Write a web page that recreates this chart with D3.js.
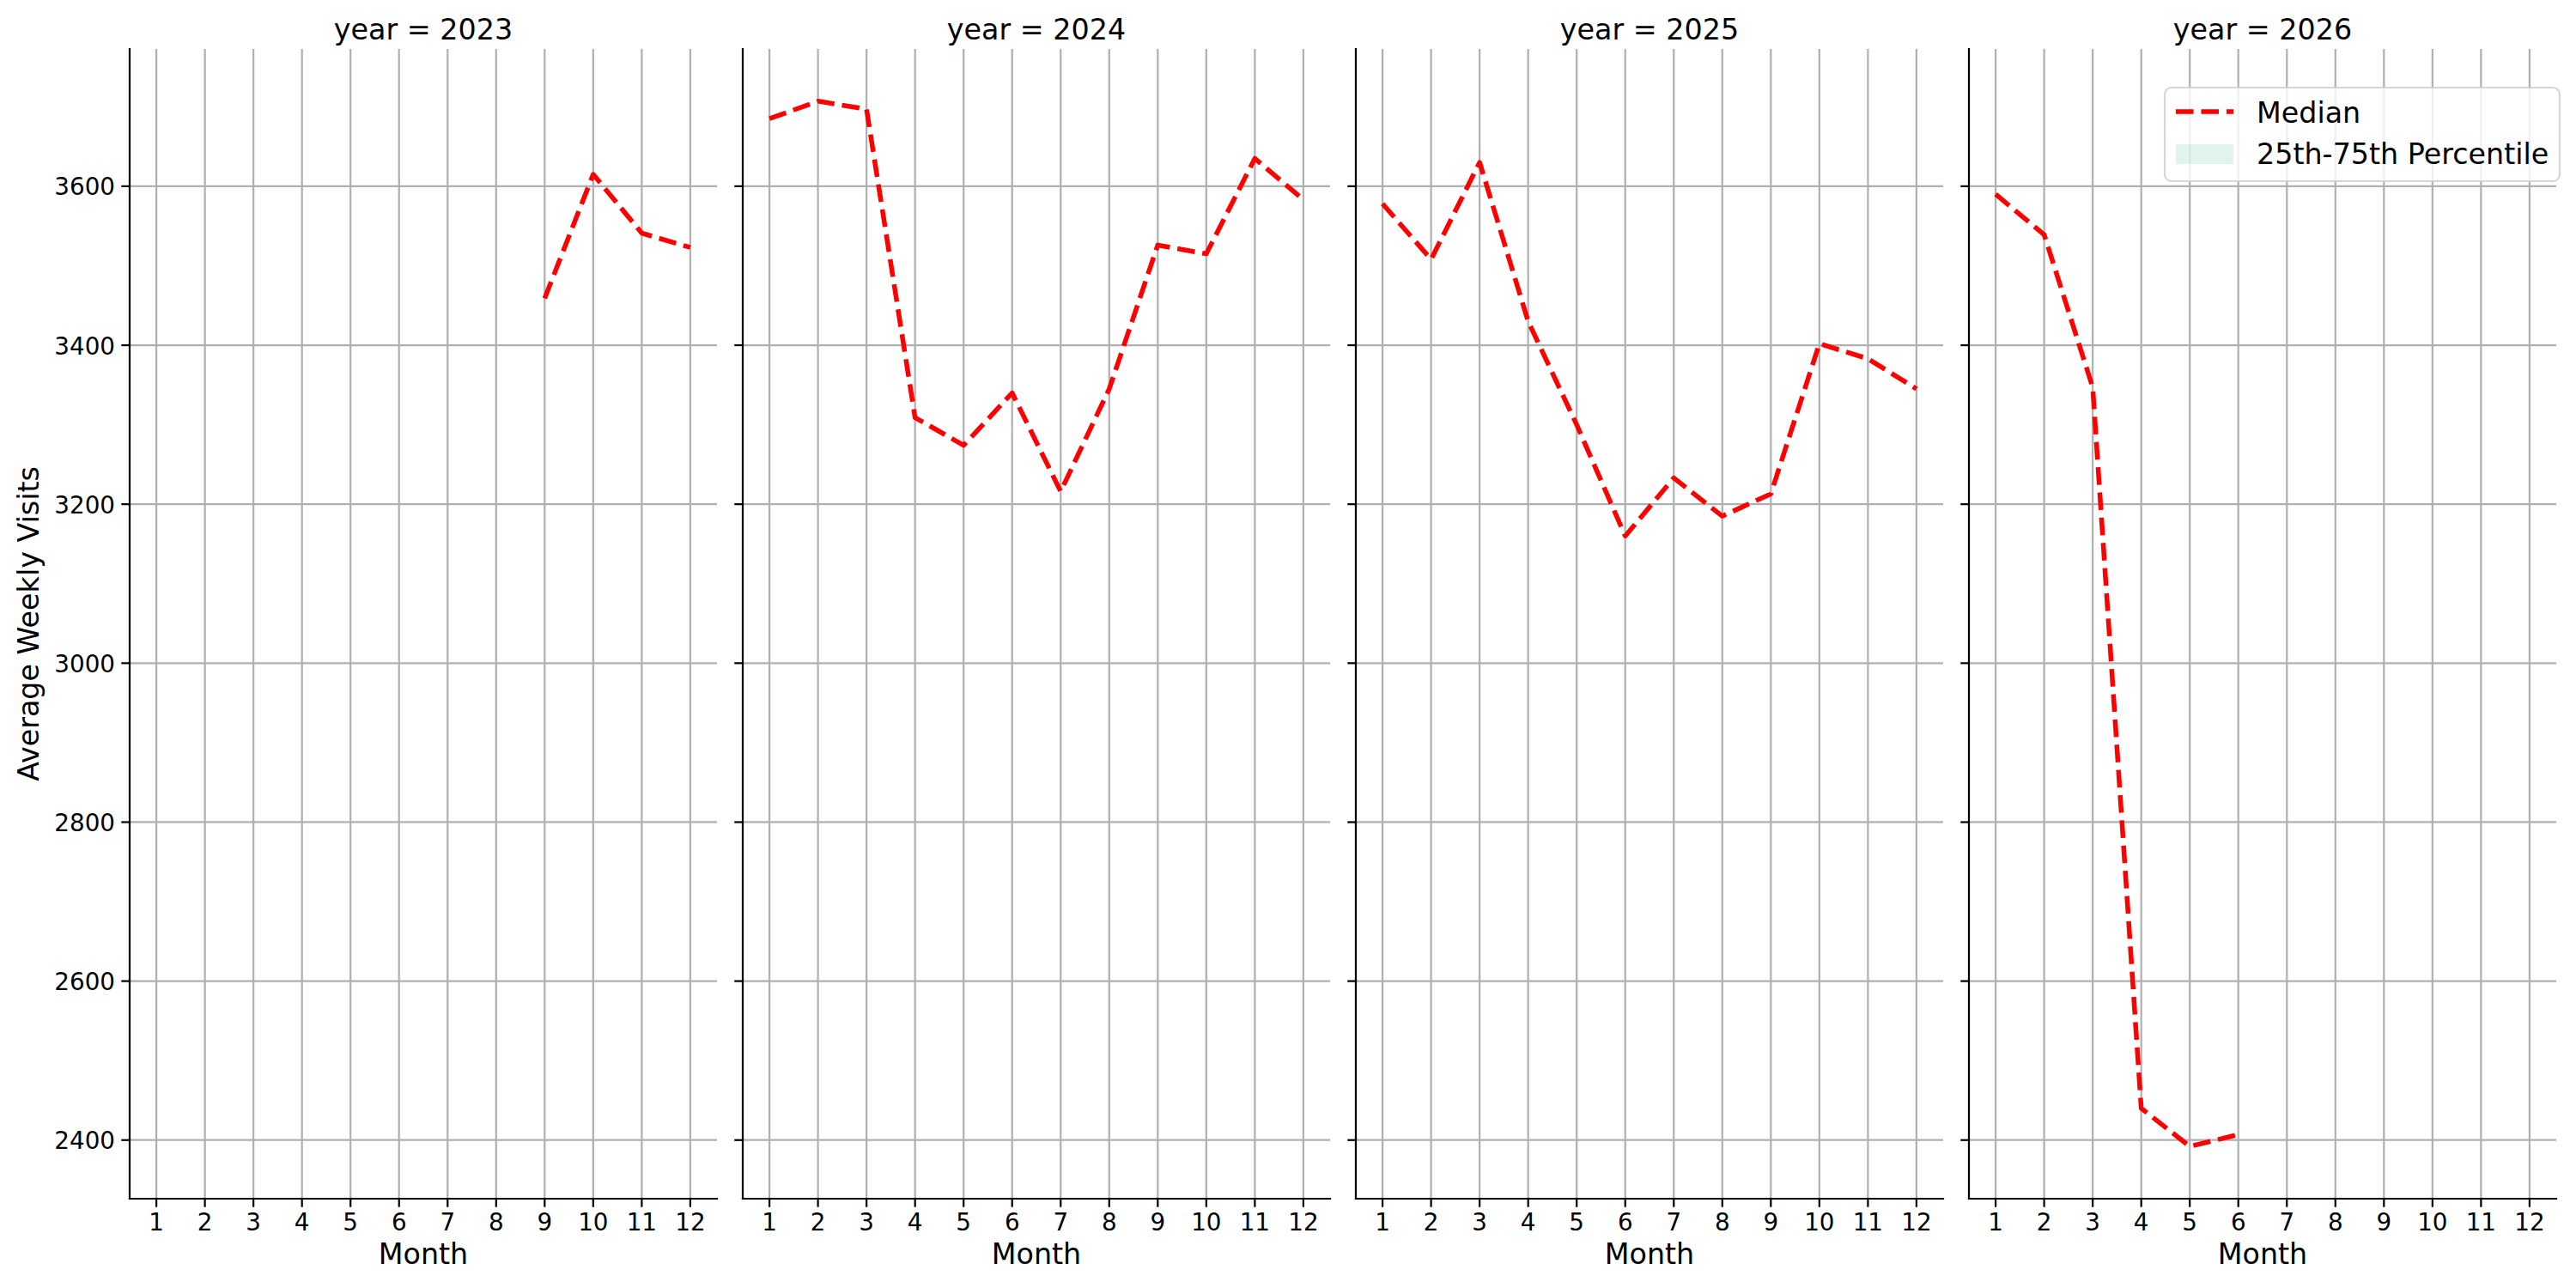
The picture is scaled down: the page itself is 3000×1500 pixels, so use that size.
<!DOCTYPE html>
<html>
<head>
<meta charset="utf-8">
<script src="https://cdn.jsdelivr.net/npm/d3@7/dist/d3.min.js"></script>
<style>
  body { margin: 0; background: #fff; }
  text { font-family: "DejaVu Sans", sans-serif; fill: #000; }
</style>
</head>
<body>
<div id="chart"></div>
<script>
// facet years and months on the x axis
let years = [2023, 2024, 2025, 2026];
let months = [1, 2, 3, 4, 5, 6, 7, 8, 9, 10, 11, 12];
let yTicks = [2400, 2600, 2800, 3000, 3200, 3400, 3600];

// median of average weekly visits, one list per year (months + values)
let months2023 = [9, 10, 11, 12];
let median2023 = [3459, 3615, 3541, 3523];
let months2024 = [1, 2, 3, 4, 5, 6, 7, 8, 9, 10, 11, 12];
let median2024 = [3685, 3707, 3697, 3309, 3274, 3340, 3216, 3345, 3526, 3515, 3635, 3583];
let months2025 = [1, 2, 3, 4, 5, 6, 7, 8, 9, 10, 11, 12];
let median2025 = [3578, 3508, 3630, 3430, 3300, 3160, 3233, 3185, 3213, 3402, 3383, 3345];
let months2026 = [1, 2, 3, 4, 5, 6];
let median2026 = [3590, 3539, 3347, 2440, 2392, 2407];

let series = [
  { year: years[0], months: months2023, values: median2023 },
  { year: years[1], months: months2024, values: median2024 },
  { year: years[2], months: months2025, values: median2025 },
  { year: years[3], months: months2026, values: median2026 }
];

////////////////////////////////////////////////////////////////////////
// figure layout (matplotlib-like, 200 dpi)
let width = 3000, height = 1500;
let plotLeft = 151, plotTop = 57, plotBottom = 1396;
let panelW = 684, gap = 30;
let pt = 200 / 72;

let svg = d3.select("#chart").append("svg")
  .attr("width", width).attr("height", height);

// shared scales, 5% margins like matplotlib autoscale
let xScale = d3.scaleLinear()
  .domain([1 - 0.55, 12 + 0.55])
  .range([0, panelW]);

let allValues = [].concat(median2023, median2024, median2025, median2026);
let ext = d3.extent(allValues);
let pad = (ext[1] - ext[0]) * 0.05;
let yScale = d3.scaleLinear()
  .domain([ext[0] - pad, ext[1] + pad])
  .range([plotBottom, plotTop]);

let line = d3.line()
  .x((d) => xScale(d[0]))
  .y((d) => yScale(d[1]));

series.forEach(function(s, i) {
  let g = svg.append("g")
    .attr("transform", "translate(" + (plotLeft + i * (panelW + gap)) + ",0)");

  // grid
  g.selectAll(".xgrid").data(months).enter().append("line")
    .attr("x1", (d) => xScale(d)).attr("x2", (d) => xScale(d))
    .attr("y1", plotTop).attr("y2", plotBottom)
    .attr("stroke", "#b0b0b0").attr("stroke-width", 0.8 * pt);
  g.selectAll(".ygrid").data(yTicks).enter().append("line")
    .attr("x1", 0).attr("x2", panelW)
    .attr("y1", (d) => yScale(d)).attr("y2", (d) => yScale(d))
    .attr("stroke", "#b0b0b0").attr("stroke-width", 0.8 * pt);

  // median line
  let pts = s.months.map((m, k) => [m, s.values[k]]);
  g.append("path")
    .attr("d", line(pts))
    .attr("fill", "none")
    .attr("stroke", "red")
    .attr("stroke-width", 2 * pt)
    .attr("stroke-dasharray", (3.7 * 2 * pt) + "," + (1.6 * 2 * pt))
    .attr("stroke-linejoin", "round")
    .attr("stroke-linecap", "butt");

  // spines (left and bottom only)
  g.append("line").attr("x1", 0).attr("x2", 0).attr("y1", plotTop).attr("y2", plotBottom)
    .attr("stroke", "#000").attr("stroke-width", 0.8 * pt).attr("stroke-linecap", "square");
  g.append("line").attr("x1", 0).attr("x2", panelW).attr("y1", plotBottom).attr("y2", plotBottom)
    .attr("stroke", "#000").attr("stroke-width", 0.8 * pt).attr("stroke-linecap", "square");

  // ticks
  let tl = 3.5 * pt;
  g.selectAll(".xtick").data(months).enter().append("line")
    .attr("x1", (d) => xScale(d)).attr("x2", (d) => xScale(d))
    .attr("y1", plotBottom).attr("y2", plotBottom + tl)
    .attr("stroke", "#000").attr("stroke-width", 0.8 * pt);
  g.selectAll(".ytick").data(yTicks).enter().append("line")
    .attr("x1", -tl).attr("x2", 0)
    .attr("y1", (d) => yScale(d)).attr("y2", (d) => yScale(d))
    .attr("stroke", "#000").attr("stroke-width", 0.8 * pt);

  g.selectAll(".xlabel").data(months).enter().append("text")
    .attr("x", (d) => xScale(d)).attr("y", 1433)
    .attr("text-anchor", "middle")
    .style("font-size", (10 * pt) + "px")
    .text((d) => d);

  if (i === 0) {
    g.selectAll(".ylabel").data(yTicks).enter().append("text")
      .attr("x", -17).attr("y", (d) => yScale(d) + 10.5)
      .attr("text-anchor", "end")
      .style("font-size", (10 * pt) + "px")
      .text((d) => d);
  }

  // axis label and facet title
  g.append("text")
    .attr("x", panelW / 2).attr("y", 1472)
    .attr("text-anchor", "middle")
    .style("font-size", (12 * pt) + "px")
    .text("Month");
  g.append("text")
    .attr("x", panelW / 2).attr("y", 46)
    .attr("text-anchor", "middle")
    .style("font-size", (12 * pt) + "px")
    .text("year = " + s.year);
});

svg.append("text")
  .attr("transform", "translate(45," + ((plotTop + plotBottom) / 2) + ") rotate(-90)")
  .attr("text-anchor", "middle")
  .style("font-size", (12 * pt) + "px")
  .text("Average Weekly Visits");

////////////////////////////////////////////////////////////////////////
// legend
let legend = svg.append("g");
legend.append("rect")
  .attr("x", 2521).attr("y", 102).attr("width", 460).attr("height", 109)
  .attr("rx", 8).attr("ry", 8)
  .attr("fill", "#fff").attr("fill-opacity", 0.8)
  .attr("stroke", "#cccccc").attr("stroke-opacity", 0.8).attr("stroke-width", 2.2);
legend.append("line")
  .attr("x1", 2534).attr("x2", 2601).attr("y1", 130).attr("y2", 130)
  .attr("stroke", "red").attr("stroke-width", 2 * pt)
  .attr("stroke-dasharray", (3.7 * 2 * pt) + "," + (1.6 * 2 * pt));
legend.append("rect")
  .attr("x", 2534).attr("y", 168).attr("width", 67).attr("height", 23)
  .attr("fill", "#66c2a5").attr("fill-opacity", 0.2);
legend.append("text").attr("x", 2628).attr("y", 143)
  .style("font-size", (12 * pt) + "px").text("Median");
legend.append("text").attr("x", 2628).attr("y", 191)
  .style("font-size", (12 * pt) + "px").text("25th-75th Percentile");
</script>
</body>
</html>
